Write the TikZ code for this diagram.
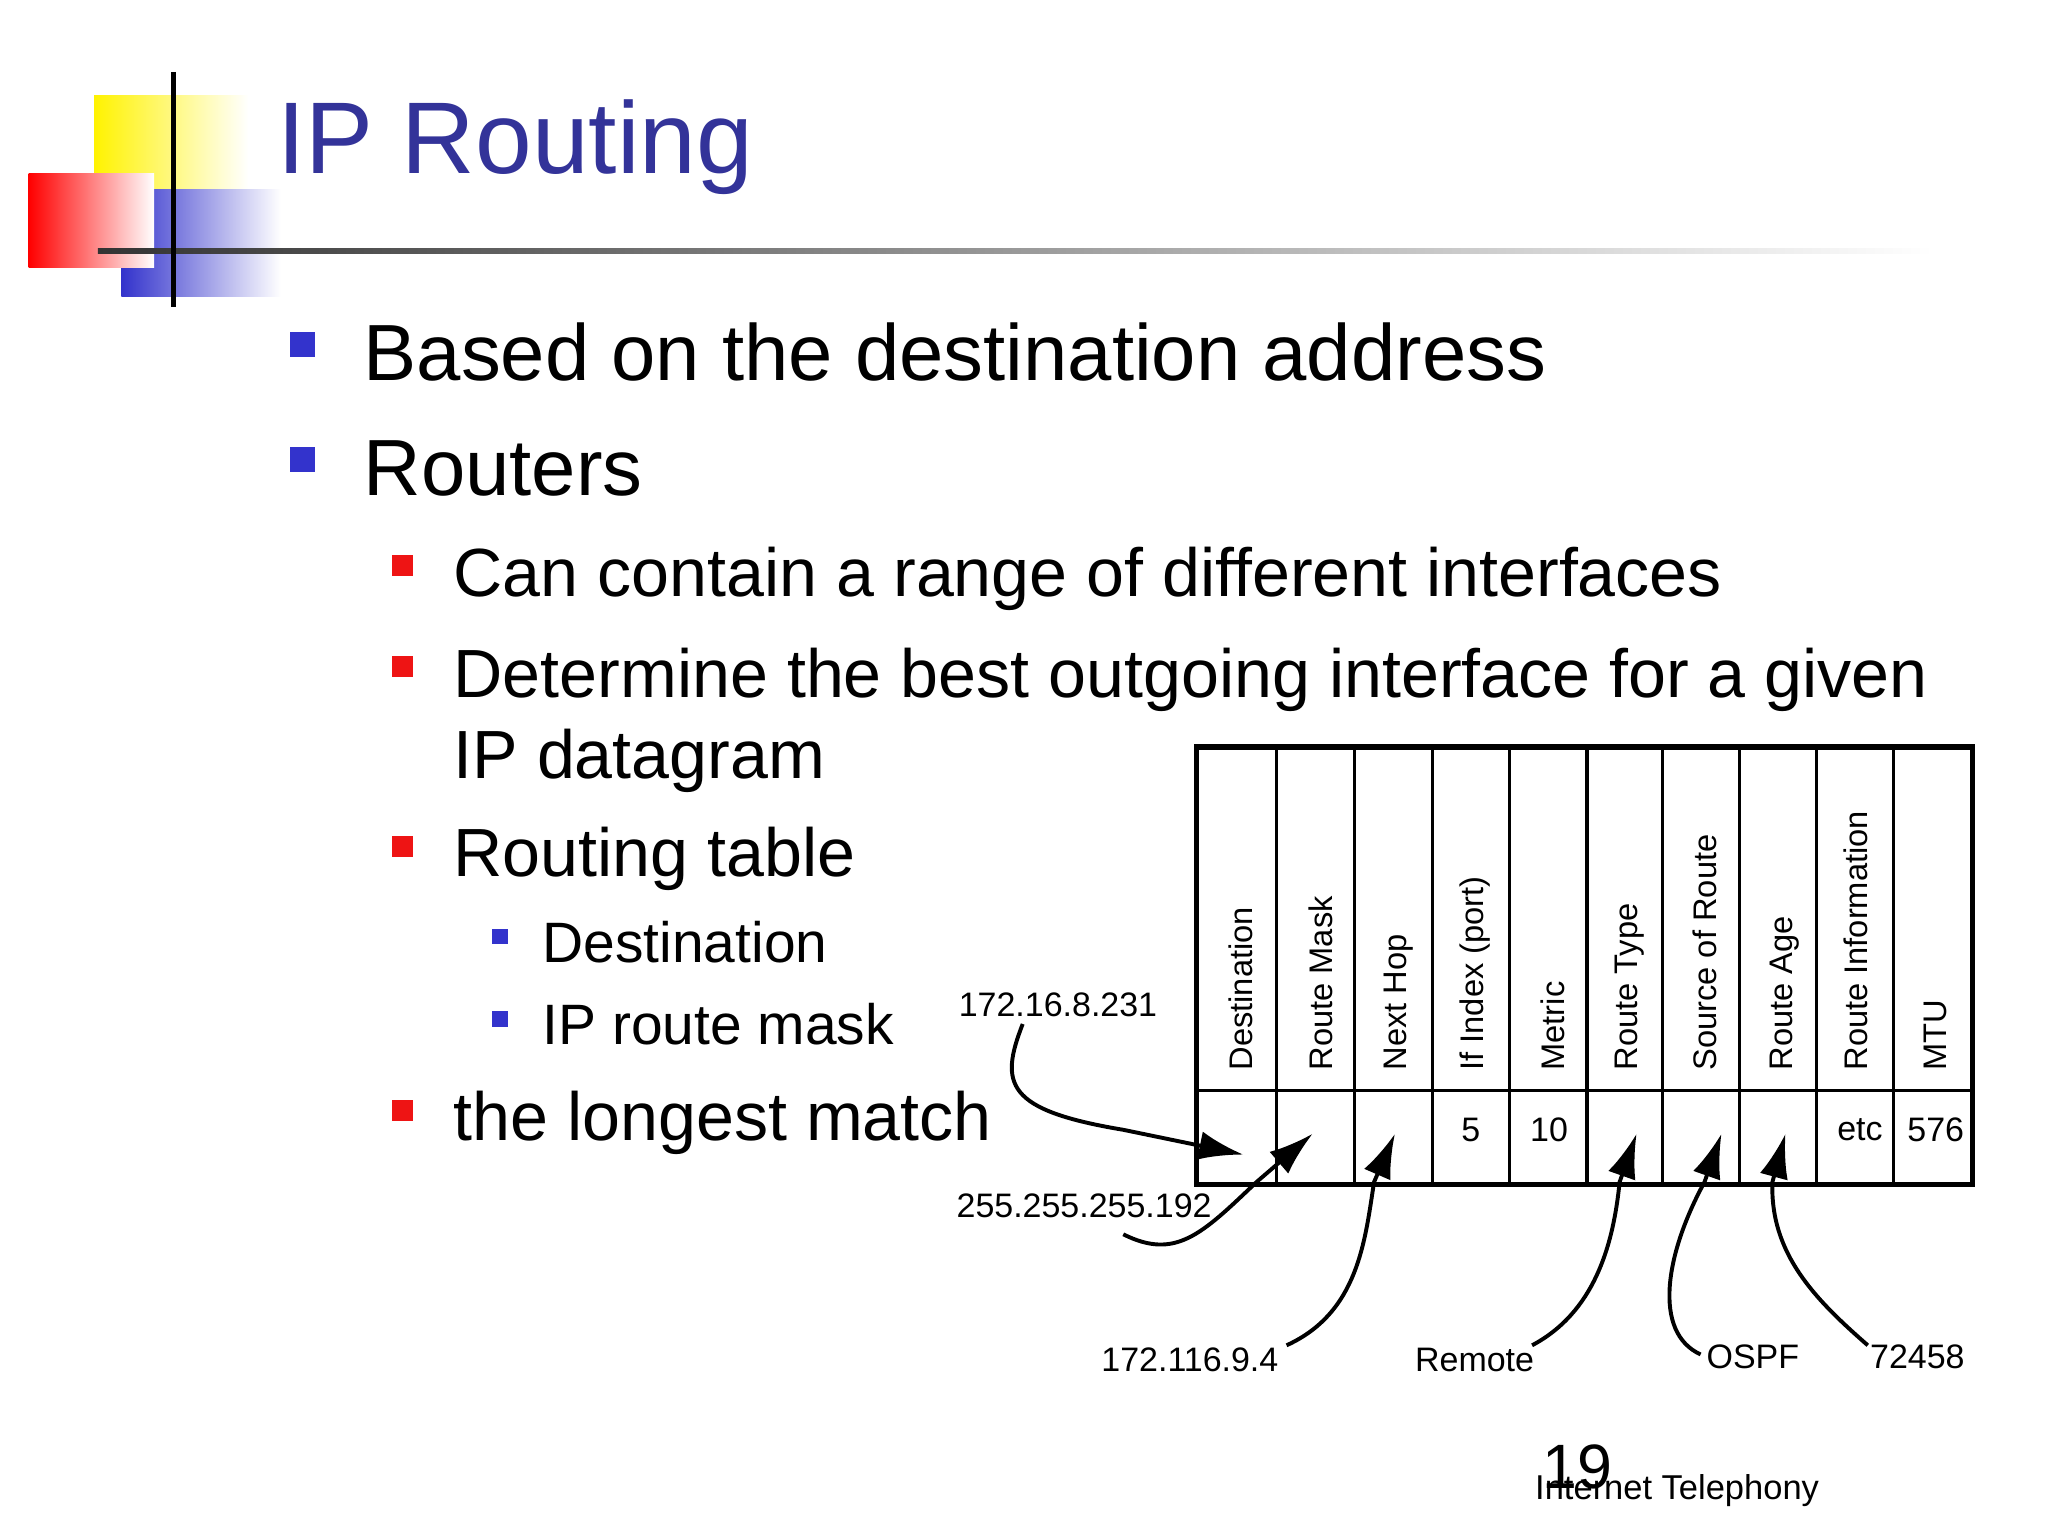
\documentclass[tikz,border=0pt]{standalone}
\usepackage{fontspec}
\setmainfont{Liberation Sans}
\usetikzlibrary{arrows.meta}
\definecolor{titleblue}{RGB}{51,51,153}
\definecolor{bblue}{RGB}{51,51,204}
\definecolor{bred}{RGB}{238,20,20}
\begin{document}
\begin{tikzpicture}[x=0.5pt,y=-0.5pt,
  hdr/.style={rotate=90,anchor=west,font=\fontsize{12.5}{14}\selectfont,inner sep=0},
  cell/.style={font=\fontsize{13}{15}\selectfont,inner sep=0},
  lab/.style={font=\fontsize{13}{15}\selectfont,inner sep=1},
  arr/.style={line width=1.5pt,-{Latex[length=17pt,width=11pt]}},
  l1/.style={anchor=base west,font=\fontsize{30.5}{34}\selectfont,inner sep=0},
  l2/.style={anchor=base west,font=\fontsize{26.1}{30}\selectfont,inner sep=0},
  l3/.style={anchor=base west,font=\fontsize{21.8}{26}\selectfont,inner sep=0}]
\fill[white] (0,0) rectangle (1568,1176);
\useasboundingbox (0,0) rectangle (1568,1176);
% logo
\shade[left color=yellow!90!orange,right color=white] (72,73) rectangle (190,190);
\shade[left color=bblue,right color=white] (93,145) rectangle (215,227);
\shade[left color=red,right color=white] (22,133) rectangle (118,205);
\shade[left color=black!80,right color=white] (75,190) rectangle (1480,194);
\draw[line width=2pt] (133,55) -- (133,235);
\node[anchor=base west,text=titleblue,font=\fontsize{39}{44}\selectfont,inner sep=0] (title) at (212,133) {IP Routing};
% bullets
\fill[bblue] (222,254) rectangle (241,273);
\node[l1] (b1) at (278,291) {Based on the destination address};
\fill[bblue] (222,342) rectangle (241,361);
\node[l1] (b2) at (278,379) {Routers};
\fill[bred] (300,425) rectangle (316,441);
\node[l2] (b3) at (347,457) {Can contain a range of different interfaces};
\fill[bred] (300,502) rectangle (316,518);
\node[l2] (b4) at (347,534) {Determine the best outgoing interface for a given};
\node[l2] (b4b) at (347,596) {IP datagram};
\fill[bred] (300,640) rectangle (316,656);
\node[l2] (b5) at (347,671) {Routing table};
\fill[bblue] (377,711) rectangle (389,723);
\node[l3] (b6) at (415,737) {Destination};
\fill[bblue] (377,774) rectangle (389,786);
\node[l3] (b7) at (415,800) {IP route mask};
\fill[bred] (300,842) rectangle (316,858);
\node[l2] (b8) at (347,873) {the longest match};
% table
\draw[line width=2pt] (916,572) rectangle (1510,907);
\draw[line width=1.2pt] (916,835) -- (1510,835);
\foreach \x in {977,1037,1097,1156,1215,1273,1332,1391,1450} \draw[line width=1.2pt] (\x,572) -- (\x,907);
\node[hdr] (h1) at (950,820) {Destination};
\node[hdr] (h2) at (1011,820) {Route Mask};
\node[hdr] (h3) at (1071,820) {Next Hop};
\node[hdr] (h4) at (1129,820) {If Index (port)};
\node[hdr] (h5) at (1189,820) {Metric};
\node[hdr] (h6) at (1248,820) {Route Type};
\node[hdr] (h7) at (1305,820) {Source of Route};
\node[hdr] (h8) at (1366,820) {Route Age};
\node[hdr] (h9) at (1421,820) {Route Information};
\node[hdr] (h10) at (1482,820) {MTU};
\node[cell] (c4) at (1126,865) {5};
\node[cell] (c5) at (1186,865) {10};
\node[cell] (c9) at (1424,865) {etc};
\node[cell] (c10) at (1482,865) {576};
% targets
\coordinate (t1) at (952,884);
\coordinate (t2) at (1005,868);
\coordinate (t3) at (1068,868);
\coordinate (t4) at (1253,868);
\coordinate (t5) at (1318,868);
\coordinate (t6) at (1367,868);
% labels
\node[lab] (a1) at (810,769) {172.16.8.231};
\node[lab] (a2) at (830,923) {255.255.255.192};
\node[lab] (a3) at (911,1041) {172.116.9.4};
\node[lab] (a4) at (1129,1041) {Remote};
\node[lab] (a5) at (1342,1039) {OSPF};
\node[lab] (a6) at (1468,1039) {72458};
\draw[arr] (783,784) .. controls (765,830) and (770,850) .. (860,865) -- (t1);
\draw[arr] (860,945) .. controls (900,965) and (920,945) .. (962,905) -- (t2);
\draw[arr] (985,1030) .. controls (1040,1005) and (1045,950) .. (1052,905) -- (t3);
\draw[arr] (1173,1030) .. controls (1220,1005) and (1235,955) .. (1240,905) -- (t4);
\draw[arr] (1302,1037) .. controls (1265,1020) and (1275,960) .. (1305,905) -- (t5);
\draw[arr] (1430,1030) .. controls (1390,995) and (1355,960) .. (1357,905) -- (t6);
% footer
\node[anchor=base,font=\fontsize{24}{26}\selectfont,inner sep=0] (pg) at (1208,1140) {19};
\node[anchor=base west,font=\fontsize{13.2}{15}\selectfont,inner sep=0] (ft) at (1175,1148) {Internet Telephony};
\end{tikzpicture}
\end{document}
